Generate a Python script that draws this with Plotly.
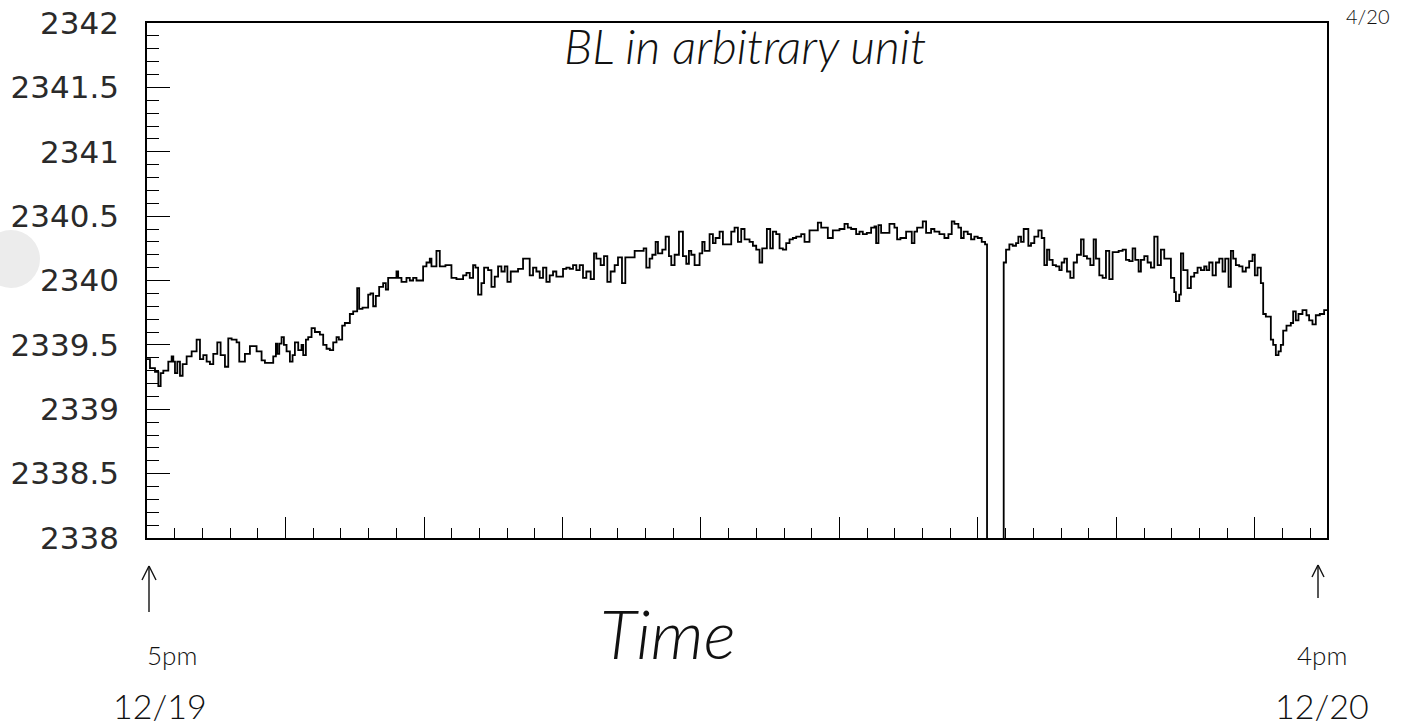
import plotly.graph_objects as go

# ---------------- data ----------------
# time since 5pm 12/19, in seconds; step starts and baseline level (arbitrary unit)
time_a = [0, 216, 577, 818, 986, 1178, 1539, 1780, 1900, 2020,
          2189, 2381, 2573, 2862, 3223, 3583, 3824, 4064, 4305, 4545,
          4786, 5075, 5315, 5628, 5868, 6109, 6469, 6662, 7071, 7431,
          7912, 8273, 8514, 9115, 9307, 9404, 9548, 9716, 9885, 10077,
          10317, 10510, 10678, 10919, 11159, 11279, 11472, 11640, 11881, 12121,
          12482, 12722, 12963, 13203, 13444, 13684, 13853, 14093, 14286, 14646,
          14887, 15176, 15320, 15560, 15969, 16138, 16330, 16522, 16763, 17051,
          17244]
level_a = [2339.39, 2339.32, 2339.29, 2339.18, 2339.28, 2339.30, 2339.37, 2339.41, 2339.37, 2339.28,
           2339.37, 2339.26, 2339.35, 2339.41, 2339.45, 2339.54, 2339.39, 2339.42, 2339.37, 2339.35,
           2339.43, 2339.52, 2339.42, 2339.33, 2339.55, 2339.54, 2339.52, 2339.37, 2339.43, 2339.49,
           2339.45, 2339.38, 2339.36, 2339.41, 2339.51, 2339.43, 2339.51, 2339.56, 2339.50, 2339.45,
           2339.37, 2339.42, 2339.52, 2339.46, 2339.50, 2339.42, 2339.54, 2339.56, 2339.63, 2339.60,
           2339.58, 2339.50, 2339.47, 2339.46, 2339.52, 2339.56, 2339.54, 2339.65, 2339.67, 2339.74,
           2339.76, 2339.94, 2339.78, 2339.79, 2339.89, 2339.90, 2339.80, 2339.88, 2339.95, 2339.98,
           2339.93]

time_b = [17412, 18013, 18134, 18374, 18735, 18975, 19216, 19456, 19937, 20178,
          20418, 20539, 20899, 21140, 21549, 21982, 22342, 22823, 23064, 23304,
          23545, 23713, 23906, 24146, 24339, 24627, 24868, 25108, 25349, 25589,
          25830, 26022, 26263, 26792, 27152, 27633, 27874, 28114, 28355, 28595,
          28836, 29076, 29317, 29557, 30038, 30279, 30519, 30760, 31000, 31241,
          31481, 31722, 32035, 32275, 32443, 32756, 32997, 33237, 33478, 33766,
          34007, 34295, 34536]
level_b = [2340.02, 2340.07, 2340.02, 2339.99, 2340.02, 2340.00, 2340.02, 2340.00, 2340.11, 2340.14,
           2340.17, 2340.11, 2340.23, 2340.11, 2340.12, 2340.02, 2340.01, 2340.04, 2340.06, 2340.02,
           2340.12, 2340.10, 2339.89, 2339.98, 2340.10, 2340.08, 2339.95, 2340.03, 2340.11, 2340.07,
           2340.11, 2339.99, 2340.07, 2340.09, 2340.17, 2340.04, 2340.10, 2340.07, 2340.02, 2340.10,
           2339.99, 2340.04, 2340.07, 2340.03, 2340.09, 2340.10, 2340.09, 2340.12, 2340.08, 2340.12,
           2340.02, 2340.07, 2340.01, 2340.21, 2340.17, 2340.12, 2340.19, 2339.99, 2340.07, 2340.12,
           2340.18, 2339.98, 2340.18]

time_c = [35209, 35859, 36051, 36291, 36484, 36724, 36893, 37205, 37446, 37686,
          37855, 38095, 38408, 38696, 38937, 39129, 39298, 39538, 39899, 40091,
          40260, 40620, 40861, 41053, 41342, 41582, 42184, 42424, 42665, 42905,
          43146, 43506, 43747, 43987, 44228, 44420, 44757, 44998, 45190, 45430,
          45671, 45911, 46152, 46392, 46633, 46873, 47234, 47475, 47835, 48437,
          48677, 49158, 49519, 50000, 50361, 50601, 50842, 51202, 51443, 51683,
          51972, 52285, 52525, 52645]
level_c = [2340.23, 2340.25, 2340.10, 2340.17, 2340.20, 2340.30, 2340.21, 2340.24, 2340.34, 2340.19,
           2340.12, 2340.20, 2340.38, 2340.19, 2340.13, 2340.23, 2340.20, 2340.12, 2340.21, 2340.30,
           2340.23, 2340.36, 2340.29, 2340.33, 2340.38, 2340.28, 2340.38, 2340.41, 2340.30, 2340.40,
           2340.32, 2340.30, 2340.27, 2340.24, 2340.14, 2340.25, 2340.40, 2340.25, 2340.38, 2340.36,
           2340.25, 2340.24, 2340.29, 2340.32, 2340.33, 2340.34, 2340.36, 2340.30, 2340.39, 2340.45,
           2340.41, 2340.33, 2340.39, 2340.40, 2340.44, 2340.41, 2340.40, 2340.36, 2340.38, 2340.36,
           2340.37, 2340.41, 2340.42, 2340.29]

# 0.0 marks the short interval with no reading (trace drops off the chart)
time_d = [52814, 53006, 53607, 53968, 54161, 54401, 54810, 55219, 55411, 55604,
          56012, 56253, 56614, 56854, 57215, 57576, 57864, 58105, 58297, 58586,
          58778, 58971, 59259, 59500, 59740, 59981, 60269, 60510, 60654, 61857,
          62025, 62265, 62506, 62746, 62915, 63107, 63300, 63636, 63829, 64069,
          64358, 64598, 64791, 64983, 65151, 65392, 65632, 65873, 66041, 66234,
          66426, 66667, 66907, 67148, 67436, 67629, 67869, 68110, 68350, 68518,
          68759, 68999, 69240, 69480, 69721]
level_d = [2340.43, 2340.37, 2340.44, 2340.41, 2340.32, 2340.33, 2340.38, 2340.29, 2340.38, 2340.41,
           2340.46, 2340.37, 2340.40, 2340.38, 2340.36, 2340.33, 2340.36, 2340.46, 2340.44, 2340.41,
           2340.33, 2340.38, 2340.36, 2340.32, 2340.34, 2340.33, 2340.30, 2340.28, 0.0, 2340.14,
           2340.24, 2340.28, 2340.27, 2340.29, 2340.34, 2340.30, 2340.40, 2340.27, 2340.29, 2340.34,
           2340.39, 2340.33, 2340.12, 2340.24, 2340.16, 2340.12, 2340.11, 2340.08, 2340.14, 2340.17,
           2340.07, 2340.02, 2340.14, 2340.20, 2340.32, 2340.19, 2340.17, 2340.12, 2340.32, 2340.17,
           2340.04, 2340.02, 2340.23, 2340.01, 2340.22]

time_e = [70154, 70442, 70683, 70923, 71164, 71356, 71597, 71765, 72006, 72246,
          72487, 72727, 72968, 73208, 73449, 73930, 74170, 74290, 74531, 74651,
          74820, 75132, 75373, 75613, 75854, 76094, 76335, 76503, 76695, 76936,
          77176, 77417, 77657, 77850, 78090, 78259, 78427, 78619, 78860, 79100,
          79341, 79581, 79822, 79990, 80183, 80423, 80592, 80784, 81145, 81313,
          81505, 81698, 81866, 82035, 82275, 82588, 82756, 82948, 83141, 83429,
          83718, 83910, 84151, 84391, 84680, 84993]
level_e = [2340.23, 2340.24, 2340.16, 2340.15, 2340.25, 2340.16, 2340.07, 2340.16, 2340.19, 2340.14,
           2340.10, 2340.34, 2340.12, 2340.24, 2340.17, 2340.02, 2339.91, 2339.84, 2339.89, 2340.21,
           2340.08, 2339.94, 2340.03, 2340.06, 2340.10, 2340.08, 2340.11, 2340.08, 2340.14, 2340.04,
           2340.14, 2340.17, 2340.07, 2340.17, 2339.95, 2340.23, 2340.17, 2340.12, 2340.11, 2340.07,
           2340.10, 2340.15, 2340.20, 2340.04, 2340.10, 2339.98, 2339.74, 2339.72, 2339.54, 2339.50,
           2339.42, 2339.45, 2339.50, 2339.61, 2339.65, 2339.67, 2339.76, 2339.69, 2339.74, 2339.77,
           2339.73, 2339.69, 2339.66, 2339.73, 2339.74, 2339.77]

time_end = 85200
y_range = [2338, 2342]
y_tick_vals = [2338, 2338.5, 2339, 2339.5, 2340, 2340.5, 2341, 2341.5, 2342]
y_tick_text = ["2338", "2338.5", "2339", "2339.5", "2340", "2340.5", "2341", "2341.5", "2342"]

# ---------------- figure ----------------
times = time_a + time_b + time_c + time_d + time_e
levels = level_a + level_b + level_c + level_d + level_e
n = min(len(times), len(levels))
times = times[:n] + [time_end]
levels = levels[:n] + [levels[n - 1]]

fig = go.Figure()
fig.add_trace(go.Scatter(
    x=times, y=levels, mode="lines",
    line=dict(shape="hv", color="black", width=1.8),
    hoverinfo="skip", showlegend=False,
))

W, H = 1412, 727
L, R, T, B = 147, 1327, 23, 538


def px(x):
    return (x - L) / (R - L)


def py(y):
    return (B - y) / (B - T)


fig.update_layout(
    width=W, height=H,
    margin=dict(l=L, r=W - R, t=T, b=H - B, pad=0, autoexpand=False),
    paper_bgcolor="white", plot_bgcolor="white",
    showlegend=False,
)

fig.update_xaxes(
    range=[0, time_end], showgrid=False, zeroline=False, automargin=False,
    showline=True, mirror=True, linecolor="black", linewidth=1.6,
    ticks="inside", tick0=0, dtick=10000, ticklen=21, tickwidth=1.3, tickcolor="black",
    showticklabels=False,
    minor=dict(ticks="inside", dtick=2000, ticklen=10, tickwidth=1.3, tickcolor="black", showgrid=False),
)
fig.update_yaxes(
    range=y_range, showgrid=False, zeroline=False, automargin=False,
    showline=True, mirror=True, linecolor="black", linewidth=1.6,
    ticks="inside", tickmode="array", tickvals=y_tick_vals, ticktext=y_tick_text,
    ticklen=23, tickwidth=1.3, tickcolor="black",
    minor=dict(ticks="inside", tick0=2338, dtick=0.1, ticklen=12, tickwidth=1.3,
               tickcolor="black", showgrid=False),
    tickfont=dict(family="DejaVu Sans", size=31, color="#2a2a2a"),
    ticklabelstandoff=20,
)

hand = dict(family="Lato", color="#111", weight=300)

annos = [
    ("BL in arbitrary unit", 745, 45, 48, "italic"),
    ("Time", 668, 632, 68, "italic"),
    ("5pm", 172, 655, 26, "normal"),
    ("12/19", 160, 705, 34, "normal"),
    ("4pm", 1322, 655, 26, "normal"),
    ("12/20", 1322, 705, 34, "normal"),
    ("4/20", 1368, 16, 20, "normal"),
]
for text, x, y, size, style in annos:
    fig.add_annotation(
        text=text, x=px(x), y=py(y), xref="paper", yref="paper",
        showarrow=False, xanchor="center", yanchor="middle",
        font=dict(size=size, style=style, **hand),
    )

# hand-drawn arrows under the time axis
arrow_lines = [
    (149, 612, 149, 566), (149, 566, 142, 580), (149, 566, 156, 580),
    (1318, 598, 1318, 565), (1318, 565, 1312, 577), (1318, 565, 1324, 577),
]
for x0, y0, x1, y1 in arrow_lines:
    fig.add_shape(type="line", xref="paper", yref="paper",
                  x0=px(x0), y0=py(y0), x1=px(x1), y1=py(y1),
                  line=dict(color="#111", width=1.4))

# hole-punch shadow at the left edge of the scanned page
fig.add_shape(type="circle", xref="paper", yref="paper",
              x0=px(-18), y0=py(288), x1=px(40), y1=py(230),
              fillcolor="#ececec", line=dict(width=0), layer="below")

fig.write_html("out.html")
